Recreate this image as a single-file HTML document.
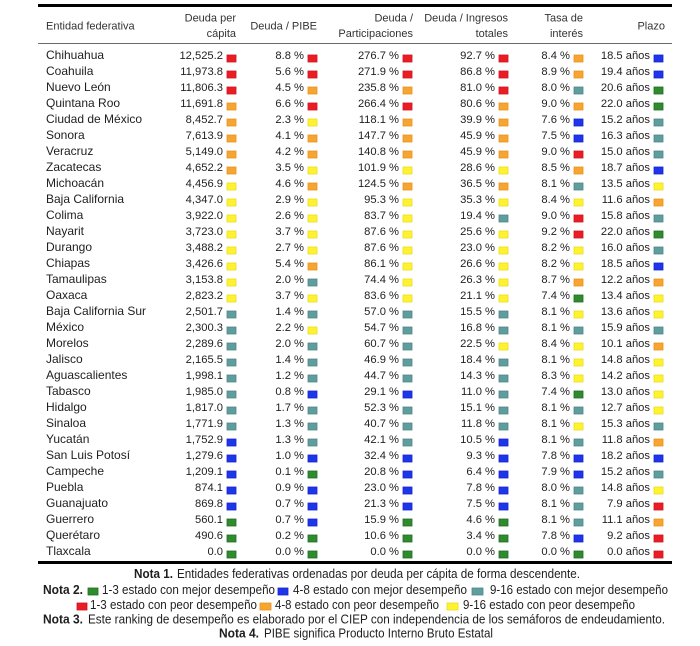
<!DOCTYPE html>
<html><head><meta charset="utf-8">
<style>
html,body{margin:0;padding:0;background:#fff;}
svg{display:block;}
text{font-family:"Liberation Sans",Arial,sans-serif;fill:#1e1e1e;}
.h{font-size:11px;fill:#333;}
.he{font-size:11px;fill:#333;text-anchor:end;}
.n{font-size:12px;}
.v{font-size:11.2px;text-anchor:end;}
.nt{font-size:12.5px;}
.b{font-weight:bold;}
.R{fill:#ec1c24;stroke:#c8161d;stroke-width:.8}
.O{fill:#f8a530;stroke:#e59424;stroke-width:.8}
.Y{fill:#fff22e;stroke:#e8dc22;stroke-width:.8}
.T{fill:#5f9d9e;stroke:#4f8788;stroke-width:.8}
.B{fill:#1f34ee;stroke:#1626c0;stroke-width:.8}
.G{fill:#2e8b2e;stroke:#1f6d1f;stroke-width:.8}
</style></head>
<body>
<svg width="700" height="646" viewBox="0 0 700 646" xmlns="http://www.w3.org/2000/svg">
<rect x="38" y="4" width="634" height="3" fill="#000"/>
<rect x="38" y="43" width="634" height="1" fill="#6a6a6a"/>
<rect x="38" y="561" width="634" height="3" fill="#000"/>

<text class="h" x="46" y="29.5">Entidad federativa</text>
<text class="he" x="236" y="21.5">Deuda per</text>
<text class="he" x="236" y="37">cápita</text>
<text class="he" x="317" y="29.5">Deuda / PIBE</text>
<text class="he" x="413" y="21.5">Deuda /</text>
<text class="he" x="413" y="37">Participaciones</text>
<text class="he" x="508" y="21.5">Deuda / Ingresos</text>
<text class="he" x="508" y="37">totales</text>
<text class="he" x="583" y="21.5">Tasa de</text>
<text class="he" x="583" y="37">interés</text>
<text class="he" x="665" y="29.5">Plazo</text>

<g transform="translate(0,0)"><text class="n" x="46" y="59">Chihuahua</text><text class="v" x="223" y="59">12,525.2</text><rect class="R" x="227" y="55" width="9" height="7"/><text class="v" x="304" y="59">8.8 %</text><rect class="R" x="308" y="55" width="9" height="7"/><text class="v" x="399" y="59">276.7 %</text><rect class="R" x="403" y="55" width="9" height="7"/><text class="v" x="495" y="59">92.7 %</text><rect class="R" x="499" y="55" width="9" height="7"/><text class="v" x="570" y="59">8.4 %</text><rect class="O" x="574" y="55" width="9" height="7"/><text class="v" x="650" y="59">18.5 años</text><rect class="B" x="654" y="55" width="9" height="7"/></g>
<g transform="translate(0,16)"><text class="n" x="46" y="59">Coahuila</text><text class="v" x="223" y="59">11,973.8</text><rect class="R" x="227" y="55" width="9" height="7"/><text class="v" x="304" y="59">5.6 %</text><rect class="R" x="308" y="55" width="9" height="7"/><text class="v" x="399" y="59">271.9 %</text><rect class="R" x="403" y="55" width="9" height="7"/><text class="v" x="495" y="59">86.8 %</text><rect class="R" x="499" y="55" width="9" height="7"/><text class="v" x="570" y="59">8.9 %</text><rect class="O" x="574" y="55" width="9" height="7"/><text class="v" x="650" y="59">19.4 años</text><rect class="B" x="654" y="55" width="9" height="7"/></g>
<g transform="translate(0,32)"><text class="n" x="46" y="59">Nuevo León</text><text class="v" x="223" y="59">11,806.3</text><rect class="R" x="227" y="55" width="9" height="7"/><text class="v" x="304" y="59">4.5 %</text><rect class="O" x="308" y="55" width="9" height="7"/><text class="v" x="399" y="59">235.8 %</text><rect class="O" x="403" y="55" width="9" height="7"/><text class="v" x="495" y="59">81.0 %</text><rect class="R" x="499" y="55" width="9" height="7"/><text class="v" x="570" y="59">8.0 %</text><rect class="T" x="574" y="55" width="9" height="7"/><text class="v" x="650" y="59">20.6 años</text><rect class="G" x="654" y="55" width="9" height="7"/></g>
<g transform="translate(0,48)"><text class="n" x="46" y="59">Quintana Roo</text><text class="v" x="223" y="59">11,691.8</text><rect class="O" x="227" y="55" width="9" height="7"/><text class="v" x="304" y="59">6.6 %</text><rect class="R" x="308" y="55" width="9" height="7"/><text class="v" x="399" y="59">266.4 %</text><rect class="R" x="403" y="55" width="9" height="7"/><text class="v" x="495" y="59">80.6 %</text><rect class="O" x="499" y="55" width="9" height="7"/><text class="v" x="570" y="59">9.0 %</text><rect class="O" x="574" y="55" width="9" height="7"/><text class="v" x="650" y="59">22.0 años</text><rect class="G" x="654" y="55" width="9" height="7"/></g>
<g transform="translate(0,64)"><text class="n" x="46" y="59">Ciudad de México</text><text class="v" x="223" y="59">8,452.7</text><rect class="O" x="227" y="55" width="9" height="7"/><text class="v" x="304" y="59">2.3 %</text><rect class="Y" x="308" y="55" width="9" height="7"/><text class="v" x="399" y="59">118.1 %</text><rect class="O" x="403" y="55" width="9" height="7"/><text class="v" x="495" y="59">39.9 %</text><rect class="O" x="499" y="55" width="9" height="7"/><text class="v" x="570" y="59">7.6 %</text><rect class="B" x="574" y="55" width="9" height="7"/><text class="v" x="650" y="59">15.2 años</text><rect class="T" x="654" y="55" width="9" height="7"/></g>
<g transform="translate(0,80)"><text class="n" x="46" y="59">Sonora</text><text class="v" x="223" y="59">7,613.9</text><rect class="O" x="227" y="55" width="9" height="7"/><text class="v" x="304" y="59">4.1 %</text><rect class="O" x="308" y="55" width="9" height="7"/><text class="v" x="399" y="59">147.7 %</text><rect class="O" x="403" y="55" width="9" height="7"/><text class="v" x="495" y="59">45.9 %</text><rect class="O" x="499" y="55" width="9" height="7"/><text class="v" x="570" y="59">7.5 %</text><rect class="B" x="574" y="55" width="9" height="7"/><text class="v" x="650" y="59">16.3 años</text><rect class="T" x="654" y="55" width="9" height="7"/></g>
<g transform="translate(0,96)"><text class="n" x="46" y="59">Veracruz</text><text class="v" x="223" y="59">5,149.0</text><rect class="O" x="227" y="55" width="9" height="7"/><text class="v" x="304" y="59">4.2 %</text><rect class="O" x="308" y="55" width="9" height="7"/><text class="v" x="399" y="59">140.8 %</text><rect class="O" x="403" y="55" width="9" height="7"/><text class="v" x="495" y="59">45.9 %</text><rect class="O" x="499" y="55" width="9" height="7"/><text class="v" x="570" y="59">9.0 %</text><rect class="R" x="574" y="55" width="9" height="7"/><text class="v" x="650" y="59">15.0 años</text><rect class="T" x="654" y="55" width="9" height="7"/></g>
<g transform="translate(0,112)"><text class="n" x="46" y="59">Zacatecas</text><text class="v" x="223" y="59">4,652.2</text><rect class="O" x="227" y="55" width="9" height="7"/><text class="v" x="304" y="59">3.5 %</text><rect class="Y" x="308" y="55" width="9" height="7"/><text class="v" x="399" y="59">101.9 %</text><rect class="Y" x="403" y="55" width="9" height="7"/><text class="v" x="495" y="59">28.6 %</text><rect class="Y" x="499" y="55" width="9" height="7"/><text class="v" x="570" y="59">8.5 %</text><rect class="O" x="574" y="55" width="9" height="7"/><text class="v" x="650" y="59">18.7 años</text><rect class="B" x="654" y="55" width="9" height="7"/></g>
<g transform="translate(0,128)"><text class="n" x="46" y="59">Michoacán</text><text class="v" x="223" y="59">4,456.9</text><rect class="Y" x="227" y="55" width="9" height="7"/><text class="v" x="304" y="59">4.6 %</text><rect class="O" x="308" y="55" width="9" height="7"/><text class="v" x="399" y="59">124.5 %</text><rect class="O" x="403" y="55" width="9" height="7"/><text class="v" x="495" y="59">36.5 %</text><rect class="O" x="499" y="55" width="9" height="7"/><text class="v" x="570" y="59">8.1 %</text><rect class="T" x="574" y="55" width="9" height="7"/><text class="v" x="650" y="59">13.5 años</text><rect class="Y" x="654" y="55" width="9" height="7"/></g>
<g transform="translate(0,144)"><text class="n" x="46" y="59">Baja California</text><text class="v" x="223" y="59">4,347.0</text><rect class="Y" x="227" y="55" width="9" height="7"/><text class="v" x="304" y="59">2.9 %</text><rect class="Y" x="308" y="55" width="9" height="7"/><text class="v" x="399" y="59">95.3 %</text><rect class="Y" x="403" y="55" width="9" height="7"/><text class="v" x="495" y="59">35.3 %</text><rect class="Y" x="499" y="55" width="9" height="7"/><text class="v" x="570" y="59">8.4 %</text><rect class="Y" x="574" y="55" width="9" height="7"/><text class="v" x="650" y="59">11.6 años</text><rect class="O" x="654" y="55" width="9" height="7"/></g>
<g transform="translate(0,160)"><text class="n" x="46" y="59">Colima</text><text class="v" x="223" y="59">3,922.0</text><rect class="Y" x="227" y="55" width="9" height="7"/><text class="v" x="304" y="59">2.6 %</text><rect class="Y" x="308" y="55" width="9" height="7"/><text class="v" x="399" y="59">83.7 %</text><rect class="Y" x="403" y="55" width="9" height="7"/><text class="v" x="495" y="59">19.4 %</text><rect class="T" x="499" y="55" width="9" height="7"/><text class="v" x="570" y="59">9.0 %</text><rect class="R" x="574" y="55" width="9" height="7"/><text class="v" x="650" y="59">15.8 años</text><rect class="T" x="654" y="55" width="9" height="7"/></g>
<g transform="translate(0,176)"><text class="n" x="46" y="59">Nayarit</text><text class="v" x="223" y="59">3,723.0</text><rect class="Y" x="227" y="55" width="9" height="7"/><text class="v" x="304" y="59">3.7 %</text><rect class="Y" x="308" y="55" width="9" height="7"/><text class="v" x="399" y="59">87.6 %</text><rect class="Y" x="403" y="55" width="9" height="7"/><text class="v" x="495" y="59">25.6 %</text><rect class="Y" x="499" y="55" width="9" height="7"/><text class="v" x="570" y="59">9.2 %</text><rect class="R" x="574" y="55" width="9" height="7"/><text class="v" x="650" y="59">22.0 años</text><rect class="G" x="654" y="55" width="9" height="7"/></g>
<g transform="translate(0,192)"><text class="n" x="46" y="59">Durango</text><text class="v" x="223" y="59">3,488.2</text><rect class="Y" x="227" y="55" width="9" height="7"/><text class="v" x="304" y="59">2.7 %</text><rect class="Y" x="308" y="55" width="9" height="7"/><text class="v" x="399" y="59">87.6 %</text><rect class="Y" x="403" y="55" width="9" height="7"/><text class="v" x="495" y="59">23.0 %</text><rect class="Y" x="499" y="55" width="9" height="7"/><text class="v" x="570" y="59">8.2 %</text><rect class="Y" x="574" y="55" width="9" height="7"/><text class="v" x="650" y="59">16.0 años</text><rect class="T" x="654" y="55" width="9" height="7"/></g>
<g transform="translate(0,208)"><text class="n" x="46" y="59">Chiapas</text><text class="v" x="223" y="59">3,426.6</text><rect class="Y" x="227" y="55" width="9" height="7"/><text class="v" x="304" y="59">5.4 %</text><rect class="O" x="308" y="55" width="9" height="7"/><text class="v" x="399" y="59">86.1 %</text><rect class="Y" x="403" y="55" width="9" height="7"/><text class="v" x="495" y="59">26.6 %</text><rect class="Y" x="499" y="55" width="9" height="7"/><text class="v" x="570" y="59">8.2 %</text><rect class="Y" x="574" y="55" width="9" height="7"/><text class="v" x="650" y="59">18.5 años</text><rect class="B" x="654" y="55" width="9" height="7"/></g>
<g transform="translate(0,224)"><text class="n" x="46" y="59">Tamaulipas</text><text class="v" x="223" y="59">3,153.8</text><rect class="Y" x="227" y="55" width="9" height="7"/><text class="v" x="304" y="59">2.0 %</text><rect class="T" x="308" y="55" width="9" height="7"/><text class="v" x="399" y="59">74.4 %</text><rect class="Y" x="403" y="55" width="9" height="7"/><text class="v" x="495" y="59">26.3 %</text><rect class="Y" x="499" y="55" width="9" height="7"/><text class="v" x="570" y="59">8.7 %</text><rect class="O" x="574" y="55" width="9" height="7"/><text class="v" x="650" y="59">12.2 años</text><rect class="O" x="654" y="55" width="9" height="7"/></g>
<g transform="translate(0,240)"><text class="n" x="46" y="59">Oaxaca</text><text class="v" x="223" y="59">2,823.2</text><rect class="Y" x="227" y="55" width="9" height="7"/><text class="v" x="304" y="59">3.7 %</text><rect class="Y" x="308" y="55" width="9" height="7"/><text class="v" x="399" y="59">83.6 %</text><rect class="Y" x="403" y="55" width="9" height="7"/><text class="v" x="495" y="59">21.1 %</text><rect class="Y" x="499" y="55" width="9" height="7"/><text class="v" x="570" y="59">7.4 %</text><rect class="G" x="574" y="55" width="9" height="7"/><text class="v" x="650" y="59">13.4 años</text><rect class="Y" x="654" y="55" width="9" height="7"/></g>
<g transform="translate(0,256)"><text class="n" x="46" y="59">Baja California Sur</text><text class="v" x="223" y="59">2,501.7</text><rect class="T" x="227" y="55" width="9" height="7"/><text class="v" x="304" y="59">1.4 %</text><rect class="T" x="308" y="55" width="9" height="7"/><text class="v" x="399" y="59">57.0 %</text><rect class="T" x="403" y="55" width="9" height="7"/><text class="v" x="495" y="59">15.5 %</text><rect class="T" x="499" y="55" width="9" height="7"/><text class="v" x="570" y="59">8.1 %</text><rect class="Y" x="574" y="55" width="9" height="7"/><text class="v" x="650" y="59">13.6 años</text><rect class="Y" x="654" y="55" width="9" height="7"/></g>
<g transform="translate(0,272)"><text class="n" x="46" y="59">México</text><text class="v" x="223" y="59">2,300.3</text><rect class="T" x="227" y="55" width="9" height="7"/><text class="v" x="304" y="59">2.2 %</text><rect class="Y" x="308" y="55" width="9" height="7"/><text class="v" x="399" y="59">54.7 %</text><rect class="T" x="403" y="55" width="9" height="7"/><text class="v" x="495" y="59">16.8 %</text><rect class="T" x="499" y="55" width="9" height="7"/><text class="v" x="570" y="59">8.1 %</text><rect class="T" x="574" y="55" width="9" height="7"/><text class="v" x="650" y="59">15.9 años</text><rect class="T" x="654" y="55" width="9" height="7"/></g>
<g transform="translate(0,288)"><text class="n" x="46" y="59">Morelos</text><text class="v" x="223" y="59">2,289.6</text><rect class="T" x="227" y="55" width="9" height="7"/><text class="v" x="304" y="59">2.0 %</text><rect class="T" x="308" y="55" width="9" height="7"/><text class="v" x="399" y="59">60.7 %</text><rect class="T" x="403" y="55" width="9" height="7"/><text class="v" x="495" y="59">22.5 %</text><rect class="Y" x="499" y="55" width="9" height="7"/><text class="v" x="570" y="59">8.4 %</text><rect class="Y" x="574" y="55" width="9" height="7"/><text class="v" x="650" y="59">10.1 años</text><rect class="O" x="654" y="55" width="9" height="7"/></g>
<g transform="translate(0,304)"><text class="n" x="46" y="59">Jalisco</text><text class="v" x="223" y="59">2,165.5</text><rect class="T" x="227" y="55" width="9" height="7"/><text class="v" x="304" y="59">1.4 %</text><rect class="T" x="308" y="55" width="9" height="7"/><text class="v" x="399" y="59">46.9 %</text><rect class="T" x="403" y="55" width="9" height="7"/><text class="v" x="495" y="59">18.4 %</text><rect class="T" x="499" y="55" width="9" height="7"/><text class="v" x="570" y="59">8.1 %</text><rect class="Y" x="574" y="55" width="9" height="7"/><text class="v" x="650" y="59">14.8 años</text><rect class="Y" x="654" y="55" width="9" height="7"/></g>
<g transform="translate(0,320)"><text class="n" x="46" y="59">Aguascalientes</text><text class="v" x="223" y="59">1,998.1</text><rect class="T" x="227" y="55" width="9" height="7"/><text class="v" x="304" y="59">1.2 %</text><rect class="T" x="308" y="55" width="9" height="7"/><text class="v" x="399" y="59">44.7 %</text><rect class="T" x="403" y="55" width="9" height="7"/><text class="v" x="495" y="59">14.3 %</text><rect class="T" x="499" y="55" width="9" height="7"/><text class="v" x="570" y="59">8.3 %</text><rect class="Y" x="574" y="55" width="9" height="7"/><text class="v" x="650" y="59">14.2 años</text><rect class="Y" x="654" y="55" width="9" height="7"/></g>
<g transform="translate(0,336)"><text class="n" x="46" y="59">Tabasco</text><text class="v" x="223" y="59">1,985.0</text><rect class="T" x="227" y="55" width="9" height="7"/><text class="v" x="304" y="59">0.8 %</text><rect class="B" x="308" y="55" width="9" height="7"/><text class="v" x="399" y="59">29.1 %</text><rect class="B" x="403" y="55" width="9" height="7"/><text class="v" x="495" y="59">11.0 %</text><rect class="T" x="499" y="55" width="9" height="7"/><text class="v" x="570" y="59">7.4 %</text><rect class="G" x="574" y="55" width="9" height="7"/><text class="v" x="650" y="59">13.0 años</text><rect class="Y" x="654" y="55" width="9" height="7"/></g>
<g transform="translate(0,352)"><text class="n" x="46" y="59">Hidalgo</text><text class="v" x="223" y="59">1,817.0</text><rect class="T" x="227" y="55" width="9" height="7"/><text class="v" x="304" y="59">1.7 %</text><rect class="T" x="308" y="55" width="9" height="7"/><text class="v" x="399" y="59">52.3 %</text><rect class="T" x="403" y="55" width="9" height="7"/><text class="v" x="495" y="59">15.1 %</text><rect class="T" x="499" y="55" width="9" height="7"/><text class="v" x="570" y="59">8.1 %</text><rect class="T" x="574" y="55" width="9" height="7"/><text class="v" x="650" y="59">12.7 años</text><rect class="Y" x="654" y="55" width="9" height="7"/></g>
<g transform="translate(0,368)"><text class="n" x="46" y="59">Sinaloa</text><text class="v" x="223" y="59">1,771.9</text><rect class="T" x="227" y="55" width="9" height="7"/><text class="v" x="304" y="59">1.3 %</text><rect class="T" x="308" y="55" width="9" height="7"/><text class="v" x="399" y="59">40.7 %</text><rect class="T" x="403" y="55" width="9" height="7"/><text class="v" x="495" y="59">11.8 %</text><rect class="T" x="499" y="55" width="9" height="7"/><text class="v" x="570" y="59">8.1 %</text><rect class="Y" x="574" y="55" width="9" height="7"/><text class="v" x="650" y="59">15.3 años</text><rect class="T" x="654" y="55" width="9" height="7"/></g>
<g transform="translate(0,384)"><text class="n" x="46" y="59">Yucatán</text><text class="v" x="223" y="59">1,752.9</text><rect class="B" x="227" y="55" width="9" height="7"/><text class="v" x="304" y="59">1.3 %</text><rect class="T" x="308" y="55" width="9" height="7"/><text class="v" x="399" y="59">42.1 %</text><rect class="T" x="403" y="55" width="9" height="7"/><text class="v" x="495" y="59">10.5 %</text><rect class="B" x="499" y="55" width="9" height="7"/><text class="v" x="570" y="59">8.1 %</text><rect class="T" x="574" y="55" width="9" height="7"/><text class="v" x="650" y="59">11.8 años</text><rect class="O" x="654" y="55" width="9" height="7"/></g>
<g transform="translate(0,400)"><text class="n" x="46" y="59">San Luis Potosí</text><text class="v" x="223" y="59">1,279.6</text><rect class="B" x="227" y="55" width="9" height="7"/><text class="v" x="304" y="59">1.0 %</text><rect class="B" x="308" y="55" width="9" height="7"/><text class="v" x="399" y="59">32.4 %</text><rect class="B" x="403" y="55" width="9" height="7"/><text class="v" x="495" y="59">9.3 %</text><rect class="B" x="499" y="55" width="9" height="7"/><text class="v" x="570" y="59">7.8 %</text><rect class="B" x="574" y="55" width="9" height="7"/><text class="v" x="650" y="59">18.2 años</text><rect class="B" x="654" y="55" width="9" height="7"/></g>
<g transform="translate(0,416)"><text class="n" x="46" y="59">Campeche</text><text class="v" x="223" y="59">1,209.1</text><rect class="B" x="227" y="55" width="9" height="7"/><text class="v" x="304" y="59">0.1 %</text><rect class="G" x="308" y="55" width="9" height="7"/><text class="v" x="399" y="59">20.8 %</text><rect class="B" x="403" y="55" width="9" height="7"/><text class="v" x="495" y="59">6.4 %</text><rect class="B" x="499" y="55" width="9" height="7"/><text class="v" x="570" y="59">7.9 %</text><rect class="B" x="574" y="55" width="9" height="7"/><text class="v" x="650" y="59">15.2 años</text><rect class="T" x="654" y="55" width="9" height="7"/></g>
<g transform="translate(0,432)"><text class="n" x="46" y="59">Puebla</text><text class="v" x="223" y="59">874.1</text><rect class="B" x="227" y="55" width="9" height="7"/><text class="v" x="304" y="59">0.9 %</text><rect class="B" x="308" y="55" width="9" height="7"/><text class="v" x="399" y="59">23.0 %</text><rect class="B" x="403" y="55" width="9" height="7"/><text class="v" x="495" y="59">7.8 %</text><rect class="B" x="499" y="55" width="9" height="7"/><text class="v" x="570" y="59">8.0 %</text><rect class="T" x="574" y="55" width="9" height="7"/><text class="v" x="650" y="59">14.8 años</text><rect class="Y" x="654" y="55" width="9" height="7"/></g>
<g transform="translate(0,448)"><text class="n" x="46" y="59">Guanajuato</text><text class="v" x="223" y="59">869.8</text><rect class="B" x="227" y="55" width="9" height="7"/><text class="v" x="304" y="59">0.7 %</text><rect class="B" x="308" y="55" width="9" height="7"/><text class="v" x="399" y="59">21.3 %</text><rect class="B" x="403" y="55" width="9" height="7"/><text class="v" x="495" y="59">7.5 %</text><rect class="B" x="499" y="55" width="9" height="7"/><text class="v" x="570" y="59">8.1 %</text><rect class="T" x="574" y="55" width="9" height="7"/><text class="v" x="650" y="59">7.9 años</text><rect class="R" x="654" y="55" width="9" height="7"/></g>
<g transform="translate(0,464)"><text class="n" x="46" y="59">Guerrero</text><text class="v" x="223" y="59">560.1</text><rect class="G" x="227" y="55" width="9" height="7"/><text class="v" x="304" y="59">0.7 %</text><rect class="B" x="308" y="55" width="9" height="7"/><text class="v" x="399" y="59">15.9 %</text><rect class="G" x="403" y="55" width="9" height="7"/><text class="v" x="495" y="59">4.6 %</text><rect class="G" x="499" y="55" width="9" height="7"/><text class="v" x="570" y="59">8.1 %</text><rect class="T" x="574" y="55" width="9" height="7"/><text class="v" x="650" y="59">11.1 años</text><rect class="O" x="654" y="55" width="9" height="7"/></g>
<g transform="translate(0,480)"><text class="n" x="46" y="59">Querétaro</text><text class="v" x="223" y="59">490.6</text><rect class="G" x="227" y="55" width="9" height="7"/><text class="v" x="304" y="59">0.2 %</text><rect class="G" x="308" y="55" width="9" height="7"/><text class="v" x="399" y="59">10.6 %</text><rect class="G" x="403" y="55" width="9" height="7"/><text class="v" x="495" y="59">3.4 %</text><rect class="G" x="499" y="55" width="9" height="7"/><text class="v" x="570" y="59">7.8 %</text><rect class="B" x="574" y="55" width="9" height="7"/><text class="v" x="650" y="59">9.2 años</text><rect class="R" x="654" y="55" width="9" height="7"/></g>
<g transform="translate(0,496)"><text class="n" x="46" y="59">Tlaxcala</text><text class="v" x="223" y="59">0.0</text><rect class="G" x="227" y="55" width="9" height="7"/><text class="v" x="304" y="59">0.0 %</text><rect class="G" x="308" y="55" width="9" height="7"/><text class="v" x="399" y="59">0.0 %</text><rect class="G" x="403" y="55" width="9" height="7"/><text class="v" x="495" y="59">0.0 %</text><rect class="G" x="499" y="55" width="9" height="7"/><text class="v" x="570" y="59">0.0 %</text><rect class="G" x="574" y="55" width="9" height="7"/><text class="v" x="650" y="59">0.0 años</text><rect class="R" x="654" y="55" width="9" height="7"/></g>

<!-- Notes -->
<text class="nt b" x="134" y="578" textLength="39" lengthAdjust="spacingAndGlyphs">Nota 1.</text>
<text class="nt" x="177" y="578" textLength="403" lengthAdjust="spacingAndGlyphs">Entidades federativas ordenadas por deuda per cápita de forma descendente.</text>

<text class="nt b" x="43" y="594" textLength="40" lengthAdjust="spacingAndGlyphs">Nota 2.</text>
<rect class="G" x="88" y="588" width="10" height="7"/>
<text class="nt" x="102" y="594" textLength="173" lengthAdjust="spacingAndGlyphs">1-3 estado con mejor desempeño</text>
<rect class="B" x="278" y="588" width="10" height="7"/>
<text class="nt" x="293" y="594" textLength="174" lengthAdjust="spacingAndGlyphs">4-8 estado con mejor desempeño</text>
<rect class="T" x="472" y="588" width="11" height="7"/>
<text class="nt" x="490" y="594" textLength="178" lengthAdjust="spacingAndGlyphs">9-16 estado con mejor desempeño</text>

<rect class="R" x="77" y="603" width="10" height="7"/>
<text class="nt" x="90" y="609" textLength="167" lengthAdjust="spacingAndGlyphs">1-3 estado con peor desempeño</text>
<rect class="O" x="260" y="603" width="11" height="7"/>
<text class="nt" x="275" y="609" textLength="164" lengthAdjust="spacingAndGlyphs">4-8 estado con peor desempeño</text>
<rect class="Y" x="447" y="603" width="11" height="7"/>
<text class="nt" x="463" y="609" textLength="172" lengthAdjust="spacingAndGlyphs">9-16 estado con peor desempeño</text>

<text class="nt b" x="43" y="623.5" textLength="40" lengthAdjust="spacingAndGlyphs">Nota 3.</text>
<text class="nt" x="88" y="623.5" textLength="577" lengthAdjust="spacingAndGlyphs">Este ranking de desempeño es elaborado por el CIEP con independencia de los semáforos de endeudamiento.</text>

<text class="nt b" x="219" y="637.5" textLength="40" lengthAdjust="spacingAndGlyphs">Nota 4.</text>
<text class="nt" x="264" y="637.5" textLength="229" lengthAdjust="spacingAndGlyphs">PIBE significa Producto Interno Bruto Estatal</text>
</svg>
</body></html>
